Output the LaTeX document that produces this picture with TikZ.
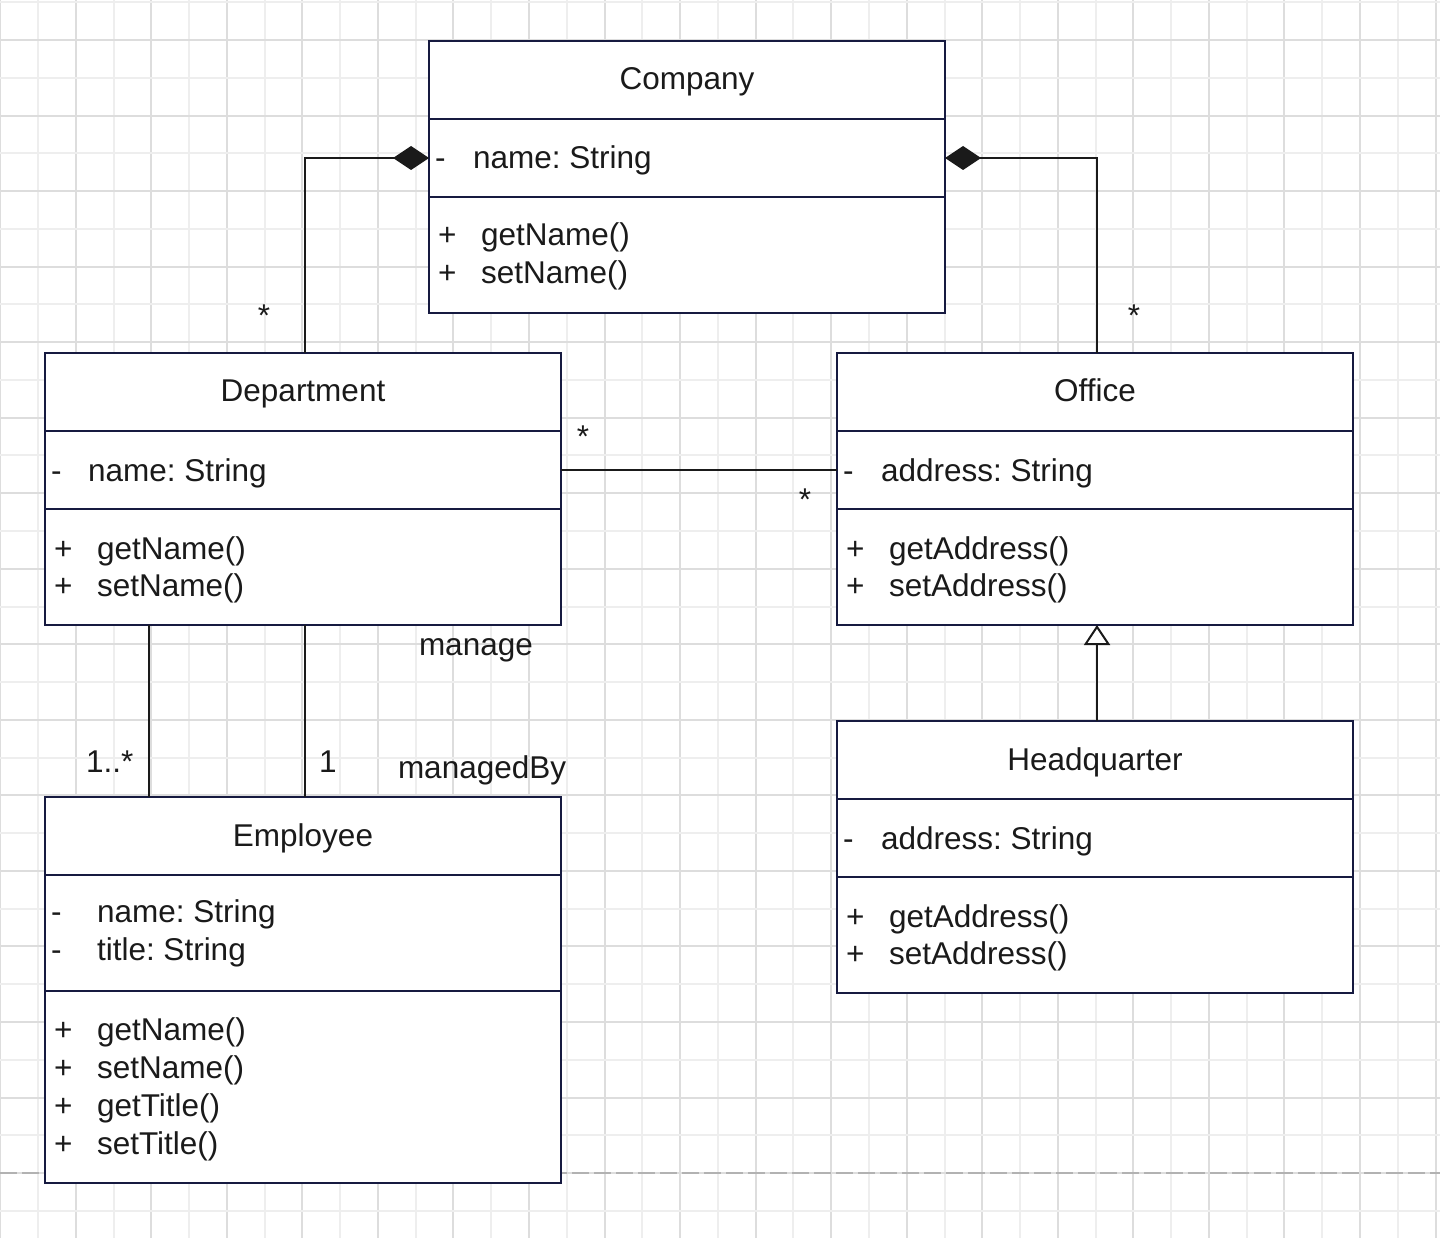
\documentclass[tikz,border=0pt]{standalone}
\usepackage{fontspec}
\setmainfont{Liberation Sans}
\usetikzlibrary{arrows.meta}
\definecolor{boxline}{RGB}{22,26,64}
\definecolor{ink}{RGB}{26,26,26}
\definecolor{gridmajor}{RGB}{221,221,221}
\definecolor{gridminor}{RGB}{238,238,238}
\definecolor{pagebreak}{RGB}{178,178,178}
\begin{document}
\begin{tikzpicture}[x=1pt,y=-1pt,
  compart/.style={draw=boxline, line width=2pt, fill=white, anchor=north west,
    minimum width=516pt, inner sep=0pt, outer sep=0pt},
  txt/.style={inner sep=0pt, outer sep=0pt, text=ink,
    font=\fontsize{31.5}{38}\selectfont\frenchspacing},
  lbl/.style={txt, anchor=base west},
  ttl/.style={txt, anchor=base},
  conn/.style={draw=ink, line width=2pt},
  compose/.style={conn, {Diamond[length=36pt,width=24pt,fill=ink]}-},
  inherit/.style={conn, -{Triangle[open,length=20pt,width=26pt,fill=white]}},
  gridline/.style={line width=2pt},
]
% canvas
\useasboundingbox (0,0) rectangle (1440,1238);
\fill[white] (0,0) rectangle (1440,1238);
% background grid, alternating minor and major lines
\foreach \n in {0,...,38}{
  \pgfmathtruncatemacro{\gx}{round(0.25+37.77*\n)}
  \pgfmathtruncatemacro{\odd}{mod(\n,2)}
  \ifnum\odd=0
    \draw[gridline, gridmajor] (\gx,0) -- (\gx,1238);
  \else
    \draw[gridline, gridminor] (\gx,0) -- (\gx,1238);
  \fi
}
\foreach \n in {0,...,32}{
  \pgfmathtruncatemacro{\gy}{round(2.2+37.77*\n)}
  \pgfmathtruncatemacro{\odd}{mod(\n,2)}
  \ifnum\odd=1
    \draw[gridline, gridmajor] (0,\gy) -- (1440,\gy);
  \else
    \draw[gridline, gridminor] (0,\gy) -- (1440,\gy);
  \fi
}
% page break
\draw[pagebreak, line width=2pt, dash pattern=on 17pt off 5pt] (0,1173) -- (1440,1173);

% ---- Company ----
\node[compart, minimum height=78pt]  (c-title) at (429,41)  {};
\node[compart, minimum height=78pt]  (c-attr)  at (429,119) {};
\node[compart, minimum height=116pt] (c-ops)   at (429,197) {};
\node[ttl] (c-name) at (687,90) {Company};
\node[lbl] (c-a1v) at (435,169) {-};
\node[lbl] (c-a1)  at (473,169) {name: String};
\node[lbl] (c-o1v) at (438,246) {+};
\node[lbl] (c-o1)  at (481,246) {getName()};
\node[lbl] (c-o2v) at (438,284) {+};
\node[lbl] (c-o2)  at (481,284) {setName()};

% ---- Department ----
\node[compart, minimum height=78pt]  (d-title) at (45,353) {};
\node[compart, minimum height=78pt]  (d-attr)  at (45,431) {};
\node[compart, minimum height=116pt] (d-ops)   at (45,509) {};
\node[ttl] (d-name) at (303,402) {Department};
\node[lbl] (d-a1v) at (51,481) {-};
\node[lbl] (d-a1)  at (88,481) {name: String};
\node[lbl] (d-o1v) at (54,559) {+};
\node[lbl] (d-o1)  at (97,559) {getName()};
\node[lbl] (d-o2v) at (54,596) {+};
\node[lbl] (d-o2)  at (97,596) {setName()};

% ---- Office ----
\node[compart, minimum height=78pt]  (o-title) at (837,353) {};
\node[compart, minimum height=78pt]  (o-attr)  at (837,431) {};
\node[compart, minimum height=116pt] (o-ops)   at (837,509) {};
\node[ttl] (o-name) at (1095,402) {Office};
\node[lbl] (o-a1v) at (843,481) {-};
\node[lbl] (o-a1)  at (881,481) {address: String};
\node[lbl] (o-o1v) at (846,559) {+};
\node[lbl] (o-o1)  at (889,559) {getAddress()};
\node[lbl] (o-o2v) at (846,596) {+};
\node[lbl] (o-o2)  at (889,596) {setAddress()};

% ---- Headquarter ----
\node[compart, minimum height=78pt]  (h-title) at (837,721) {};
\node[compart, minimum height=78pt]  (h-attr)  at (837,799) {};
\node[compart, minimum height=116pt] (h-ops)   at (837,877) {};
\node[ttl] (h-name) at (1095,770) {Headquarter};
\node[lbl] (h-a1v) at (843,849) {-};
\node[lbl] (h-a1)  at (881,849) {address: String};
\node[lbl] (h-o1v) at (846,927) {+};
\node[lbl] (h-o1)  at (889,927) {getAddress()};
\node[lbl] (h-o2v) at (846,964) {+};
\node[lbl] (h-o2)  at (889,964) {setAddress()};

% ---- Employee ----
\node[compart, minimum height=78pt]  (e-title) at (45,797) {};
\node[compart, minimum height=116pt] (e-attr)  at (45,875) {};
\node[compart, minimum height=192pt] (e-ops)   at (45,991) {};
\node[ttl] (e-name) at (303,846) {Employee};
\node[lbl] (e-a1v) at (51,922) {-};
\node[lbl] (e-a1)  at (97,922) {name: String};
\node[lbl] (e-a2v) at (51,960) {-};
\node[lbl] (e-a2)  at (97,960) {title: String};
\node[lbl] (e-o1v) at (54,1040) {+};
\node[lbl] (e-o1)  at (97,1040) {getName()};
\node[lbl] (e-o2v) at (54,1078) {+};
\node[lbl] (e-o2)  at (97,1078) {setName()};
\node[lbl] (e-o3v) at (54,1116) {+};
\node[lbl] (e-o3)  at (97,1116) {getTitle()};
\node[lbl] (e-o4v) at (54,1154) {+};
\node[lbl] (e-o4)  at (97,1154) {setTitle()};

% ---- relations ----
\draw[compose] (c-attr.west) -| ([xshift=2pt]d-title.north);
\draw[compose] (c-attr.east) -| ([xshift=2pt]o-title.north);
\draw[conn] (d-attr.east) -- (o-attr.west);
\draw[conn] ([xshift=-154pt]d-ops.south) -- ([xshift=-154pt]e-title.north);
\draw[conn] ([xshift=2pt]d-ops.south) -- ([xshift=2pt]e-title.north);
\draw[inherit] ([xshift=2pt]h-title.north) -- ([xshift=2pt]o-ops.south);

% ---- multiplicities and role names ----
\node[ttl] (m-cd)  at (264,327) {*};
\node[ttl] (m-co)  at (1134,327) {*};
\node[ttl] (m-do)  at (583,447) {*};
\node[ttl] (m-od)  at (805,510) {*};
\node[lbl] (m-de)  at (86,772) {1..*};
\node[lbl] (m-mgr) at (319,772) {1};
\node[lbl] (r-mg)  at (419,655) {manage};
\node[lbl] (r-mb)  at (398,778) {managedBy};
\end{tikzpicture}
\end{document}
